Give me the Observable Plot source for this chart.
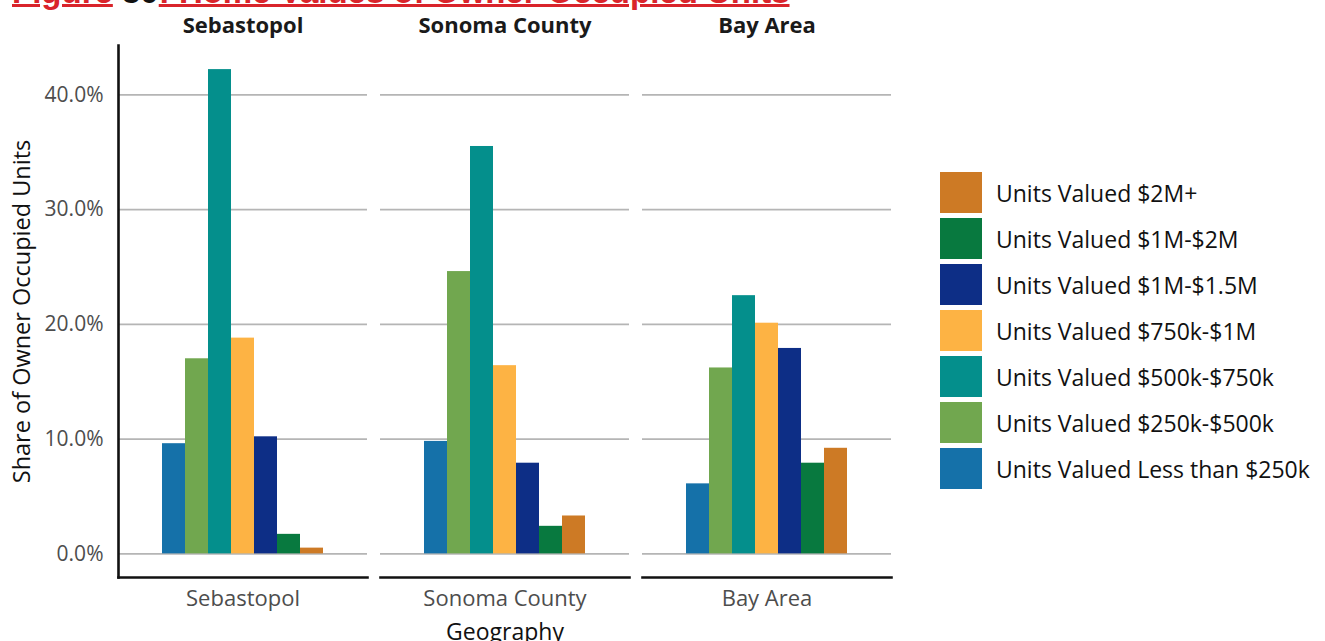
<!DOCTYPE html>
<html>
<head>
<meta charset="utf-8">
<script src="https://cdn.jsdelivr.net/npm/d3@7"></script>
<script src="https://cdn.jsdelivr.net/npm/@observablehq/plot@0.6"></script>
<style>
  html, body { margin: 0; padding: 0; background: #fff; }
  body { width: 1325px; height: 641px; position: relative; overflow: hidden; font-family: "Open Sans", sans-serif; }
  #title { position: absolute; left: 12px; top: -25px; font-family: "Liberation Sans", Arial, sans-serif; font-weight: bold; font-size: 33px; line-height: 33px; white-space: nowrap; color: #d9242b; }
  #title .u { text-decoration: underline; text-decoration-thickness: 2.5px; text-underline-offset: 1px; }
  #title .k { color: #111; }
  #chart { position: absolute; left: 0; top: 0; }
  #legend { position: absolute; left: 940px; top: 172px; }
  .item { display: flex; align-items: center; height: 41px; margin-bottom: 5px; }
  .sw { width: 42px; height: 41px; margin-right: 14px; flex: none; }
  .lab { font-size: 23px; color: #111; white-space: nowrap; }
  [aria-label="y-axis label"], [aria-label="fx-axis label"] { fill: #111; }
  [aria-label="y-axis label"] text { font-size: 23.5px; }
  [aria-label="fx-axis label"] text { font-size: 23px; }
</style>
</head>
<body>
<div id="title"><span class="u">Figure</span><span class="k"> 30</span><span class="u">: Home Values of Owner-Occupied Units</span></div>
<div id="chart"></div>
<div id="legend"></div>
<script>
const geos = ["Sebastopol", "Sonoma County", "Bay Area"];
const cats = [
  "Units Valued Less than $250k",
  "Units Valued $250k-$500k",
  "Units Valued $500k-$750k",
  "Units Valued $750k-$1M",
  "Units Valued $1M-$1.5M",
  "Units Valued $1M-$2M",
  "Units Valued $2M+"
];
const colors = ["#1571a9", "#71a74f", "#048f8c", "#fdb344", "#0d2e86", "#08793f", "#cd7a25"];
const sebastopol = [9.6, 17.0, 42.2, 18.8, 10.2, 1.7, 0.5];
const sonomaCounty = [9.8, 24.6, 35.5, 16.4, 7.9, 2.4, 3.3];
const bayArea = [6.1, 16.2, 22.5, 20.1, 17.9, 7.9, 9.2];
const yTicks = [0, 10, 20, 30, 40];

const series = [sebastopol, sonomaCounty, bayArea];
const data = [];
geos.forEach((g, gi) => cats.forEach((c, ci) => data.push({geo: g, cat: c, value: series[gi][ci]})));

const chart = Plot.plot({
  width: 900,
  height: 641,
  marginLeft: 117,
  marginRight: 7,
  marginTop: 45,
  marginBottom: 64,
  style: {fontFamily: "Open Sans, sans-serif", background: "transparent"},
  fx: {domain: geos, padding: 0.0494},
  x: {domain: cats, paddingInner: 0, paddingOuter: 1.9, axis: null},
  y: {domain: [-2.06, 44.3]},
  color: {domain: cats, range: colors},
  marks: [
    Plot.gridY(yTicks, {stroke: "#b5b5b5", strokeOpacity: 1, strokeWidth: 1.6}),
    Plot.barY(data, {fx: "geo", x: "cat", y: "value", fill: "cat"}),
    Plot.frame({anchor: "bottom", stroke: "#111", strokeWidth: 2.6}),
    Plot.frame({anchor: "left", facetAnchor: "left", stroke: "#111", strokeWidth: 2.6}),
    Plot.axisY({ticks: yTicks, tickFormat: d => d.toFixed(1) + "%", tickSize: 0, tickPadding: 15,
      fontSize: 21, fill: "#4d4d4d", label: "Share of Owner Occupied Units", labelAnchor: "center",
      labelArrow: "none", labelOffset: 105}),
    Plot.axisFx({anchor: "top", label: null, tickSize: 0, tickPadding: 13, fontSize: 22,
      fontWeight: "bold", fill: "#1a1a1a"}),
    Plot.axisFx({anchor: "bottom", tickSize: 0, tickPadding: 13, fontSize: 22, fill: "#4d4d4d",
      label: "Geography", labelAnchor: "center", labelArrow: "none", labelOffset: 62})
  ]
});
document.getElementById("chart").appendChild(chart);

const legend = document.getElementById("legend");
cats.map((c, i) => [c, colors[i]]).reverse().forEach(([c, col]) => {
  const item = document.createElement("div");
  item.className = "item";
  const sw = document.createElement("div");
  sw.className = "sw";
  sw.style.background = col;
  const lab = document.createElement("div");
  lab.className = "lab";
  lab.textContent = c;
  item.appendChild(sw);
  item.appendChild(lab);
  legend.appendChild(item);
});
</script>
</body>
</html>
